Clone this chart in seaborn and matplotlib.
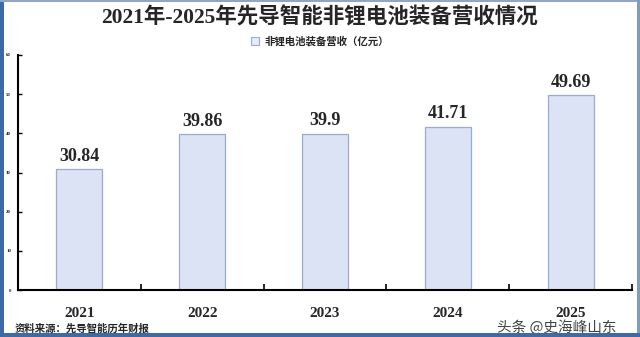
import matplotlib
matplotlib.use("Agg")
import matplotlib.pyplot as plt
import seaborn as sns
import pandas as pd
import numpy as np
from matplotlib.patches import Rectangle, Patch

years = ["2021", "2022", "2023", "2024", "2025"]
revenue = [30.84, 39.86, 39.9, 41.71, 49.69]
value_labels = ["30.84", "39.86", "39.9", "41.71", "49.69"]
yticks = [0, 10, 20, 30, 40, 50, 60]

title = "2021年-2025年先导智能非锂电池装备营收情况"
legend_label = "非锂电池装备营收（亿元）"
source = "资料来源：先导智能历年财报"
watermark = "头条 @史海峰山东"

sns.set_theme(style="white")
plt.rcParams['font.family'] = ['Liberation Serif', 'Noto Sans CJK SC', 'DejaVu Sans']

df = pd.DataFrame({"year": years, "revenue": revenue})

fig = plt.figure(figsize=(6.4, 3.37), dpi=100)
W, H = 640, 337
ax = fig.add_axes([18 / W, 1 - 290 / H, (632 - 18) / W, 235 / H])

sns.barplot(data=df, x="year", y="revenue", ax=ax, width=0.375,
            color="#dbe3f5", edgecolor="#9aabd0", linewidth=0.9,
            saturation=1)

ax.set_ylim(0, 60)
ax.set_xlim(-0.5, 4.5)
ax.set_yticks(yticks)
ax.set_yticklabels([str(v) for v in yticks], fontsize=3.5, fontweight='bold')
ax.set_xlabel("")
ax.set_ylabel("")
ax.set_xticks(range(len(years)))
ax.set_xticklabels(years, fontsize=11, fontweight='bold',
                   family=['Liberation Serif'])
ax.set_xticks(np.arange(0.5, 5, 1), minor=True)
ax.tick_params(axis='x', which='major', bottom=True, length=0, pad=12)
ax.tick_params(axis='x', which='minor', bottom=True, direction='in',
               length=4, width=1.2, color='black')
ax.tick_params(axis='y', which='major', left=True, direction='in',
               length=3, width=1, color='black', pad=5)

for s in ['top', 'right']:
    ax.spines[s].set_visible(False)
for s in ['left', 'bottom']:
    ax.spines[s].set_color('black')
    ax.spines[s].set_linewidth(1.5)

for i, (v, lab) in enumerate(zip(revenue, value_labels)):
    ax.text(i, v + 1.1, lab, ha='center', va='bottom', fontsize=13,
            fontweight='bold', family=['Liberation Serif'])

fig.text(0.5, 1 - 18 / H, title, ha='center', va='center', fontsize=15.5,
         fontweight='bold')

handle = Patch(facecolor="#e6ecf8", edgecolor="#9aabd0", linewidth=0.8)
fig.legend([handle], [legend_label], loc='center', bbox_to_anchor=(0.5, 1 - 41 / H),
           frameon=False, handlelength=0.8, handleheight=0.8,
           handletextpad=0.5, prop={'family': ['Noto Sans CJK SC'], 'size': 7.5, 'weight': 'bold'})

fig.text(15 / W, 1 - 328.5 / H, source, ha='left', va='center',
         fontweight='bold', family=['Noto Sans CJK SC'], fontsize=7.5)
fig.text(497 / W, 1 - 327 / H, watermark, ha='left', va='center', fontsize=10.5,
         color='#444444', family=['Noto Sans CJK SC'])

# frame
frame = [
    (0, 0, 4 / W, 1, '#3c6aa6'),
    (0, 1 - 2 / H, 1, 2 / H, '#8fa6c6'),
    (1 - 3 / W, 0, 3 / W, 1, '#7f9cc4'),
    (0, 0, 1, 4 / H, '#3f6aa3'),
]
for x, y, w, h, c in frame:
    fig.add_artist(Rectangle((x, y), w, h, transform=fig.transFigure,
                             facecolor=c, edgecolor='none', zorder=10))

fig.savefig("out.png", dpi=100)
